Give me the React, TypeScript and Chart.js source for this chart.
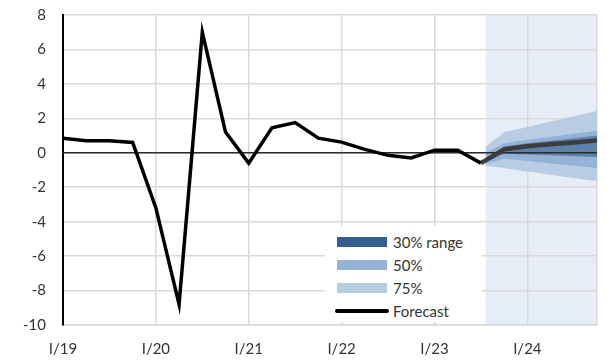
import React, { useEffect, useRef } from "react";
import { Chart, registerables } from "chart.js";

Chart.register(...registerables);

// Quarterly index: 0 = I/19 ... 23 = IV/24
const xTickLabels = ["I/19", "I/20", "I/21", "I/22", "I/23", "I/24"];
const histValues = [0.85, 0.7, 0.7, 0.6, -3.2, -8.8, 7.0, 1.2, -0.6, 1.45, 1.75, 0.85, 0.62, 0.2, -0.15, -0.3, 0.15, 0.15, -0.6];
const forecastX = [18, 19, 20, 21, 22, 23];
const forecastValues = [-0.6, 0.2, 0.38, 0.5, 0.6, 0.72];
const fanX = [18.2, 19, 20, 21, 22, 23];
const band75Upper = [0.35, 1.19, 1.5, 1.81, 2.12, 2.43];
const band75Lower = [-0.75, -0.89, -1.08, -1.27, -1.46, -1.65];
const band50Upper = [0.0, 0.56, 0.75, 0.93, 1.1, 1.28];
const band50Lower = [-0.65, -0.35, -0.48, -0.62, -0.75, -0.88];
const band30Upper = [-0.3, 0.37, 0.55, 0.7, 0.85, 1.0];
const band30Lower = [-0.55, -0.06, -0.1, -0.15, -0.2, -0.25];
const shadeStart = 18.2;
const xMin = 0;
const xMax = 23;
const yMin = -10;
const yMax = 8;

const FONT = "Lato, 'Open Sans', sans-serif";
const TEXT = "#333333";

const pts = (xs: number[], ys: number[]) => ys.map((y, i) => ({ x: xs[i], y }));

const shadePlugin = {
  id: "forecastShade",
  beforeDraw(chart: any) {
    const { ctx, chartArea, scales } = chart;
    const x0 = scales.x.getPixelForValue(shadeStart);
    const x1 = scales.x.getPixelForValue(xMax);
    ctx.save();
    ctx.fillStyle = "#e6edf6";
    ctx.fillRect(x0, chartArea.top, x1 - x0, chartArea.bottom - chartArea.top);
    ctx.restore();
  },
};

const zeroPad = (s: any) => {
  s.paddingTop = 0;
  s.paddingBottom = 0;
  s.paddingLeft = 0;
  s.paddingRight = 0;
};

export default function App() {
  const ref = useRef<HTMLCanvasElement | null>(null);

  useEffect(() => {
    document.body.style.margin = "0";
    if (!ref.current) return;
    const histX = histValues.map((_, i) => i);
    const band = (data: any, color: string, fill: any) => ({
      data,
      borderWidth: 0,
      borderColor: "rgba(0,0,0,0)",
      backgroundColor: color,
      pointRadius: 0,
      fill,
      tension: 0,
    });
    const chart = new Chart(ref.current, {
      type: "line",
      data: {
        datasets: [
          {
            data: pts(histX, histValues),
            borderColor: "#000000",
            borderWidth: 3.5,
            pointRadius: 0,
            borderJoinStyle: "miter",
            fill: false,
            tension: 0,
          },
          {
            data: pts(forecastX, forecastValues),
            borderColor: "#3d3d3d",
            borderWidth: 4.5,
            pointRadius: 0,
            fill: false,
            tension: 0,
          },
          {
            data: pts([xMin, xMax], [0, 0]),
            borderColor: "#2b2b2b",
            borderWidth: 1.5,
            pointRadius: 0,
            fill: false,
          },
          band(pts(fanX, band30Upper), "rgba(54,95,145,0.6)", "+1"),
          band(pts(fanX, band30Lower), "rgba(0,0,0,0)", false),
          band(pts(fanX, band50Upper), "#95b3d7", "+1"),
          band(pts(fanX, band50Lower), "rgba(0,0,0,0)", false),
          band(pts(fanX, band75Upper), "#b8cce4", "+1"),
          band(pts(fanX, band75Lower), "rgba(0,0,0,0)", false),
        ] as any,
      },
      options: {
        animation: false,
        responsive: false,
        maintainAspectRatio: false,
        layout: { padding: { top: 15, right: 10, left: 0, bottom: 0 } },
        plugins: { legend: { display: false }, tooltip: { enabled: false } },
        scales: {
          x: {
            type: "linear",
            min: xMin,
            max: xMax,
            afterFit: (s: any) => {
              s.height = 35;
              zeroPad(s);
            },
            ticks: {
              stepSize: 4,
              autoSkip: false,
              maxRotation: 0,
              padding: 15,
              color: TEXT,
              font: { family: FONT, size: 15 },
              callback: (v: any) => (Number(v) % 4 === 0 ? xTickLabels[Number(v) / 4] : ""),
            },
            grid: { color: "#d9d9d9", lineWidth: 1.5, drawTicks: false },
            border: { color: "#d9d9d9", width: 1.5 },
          },
          y: {
            min: yMin,
            max: yMax,
            afterFit: (s: any) => {
              s.width = 63;
              zeroPad(s);
            },
            ticks: {
              stepSize: 2,
              padding: 17,
              color: TEXT,
              font: { family: FONT, size: 15 },
            },
            grid: { color: "#d9d9d9", lineWidth: 1.5, drawTicks: false },
            border: { color: "#000000", width: 2 },
          },
        },
      },
      plugins: [shadePlugin],
    } as any);
    return () => chart.destroy();
  }, []);

  const legendItems = [
    { label: "30% range", color: "#365f91", top: 11 },
    { label: "50%", color: "#95b3d7", top: 34 },
    { label: "75%", color: "#b8cce4", top: 57 },
  ];

  return (
    <div style={{ position: "relative", width: 607, height: 360 }}>
      <canvas ref={ref} width={607} height={360} style={{ display: "block" }} />
      <div
        style={{
          position: "absolute",
          left: 325,
          top: 226,
          width: 157,
          height: 96,
          background: "#ffffff",
          fontFamily: FONT,
          fontSize: 15,
          color: TEXT,
        }}
      >
        {legendItems.map((it) => (
          <React.Fragment key={it.label}>
            <div
              style={{
                position: "absolute",
                left: 12,
                top: it.top,
                width: 50,
                height: 10,
                background: it.color,
              }}
            />
            <div
              style={{
                position: "absolute",
                left: 68,
                top: it.top + 5 - 10,
                height: 20,
                lineHeight: "20px",
                whiteSpace: "nowrap",
              }}
            >
              {it.label}
            </div>
          </React.Fragment>
        ))}
        <div
          style={{
            position: "absolute",
            left: 10,
            top: 83,
            width: 54,
            height: 4,
            background: "#000000",
            borderRadius: 2,
          }}
        />
        <div
          style={{
            position: "absolute",
            left: 68,
            top: 75,
            height: 20,
            lineHeight: "20px",
            whiteSpace: "nowrap",
          }}
        >
          Forecast
        </div>
      </div>
    </div>
  );
}
